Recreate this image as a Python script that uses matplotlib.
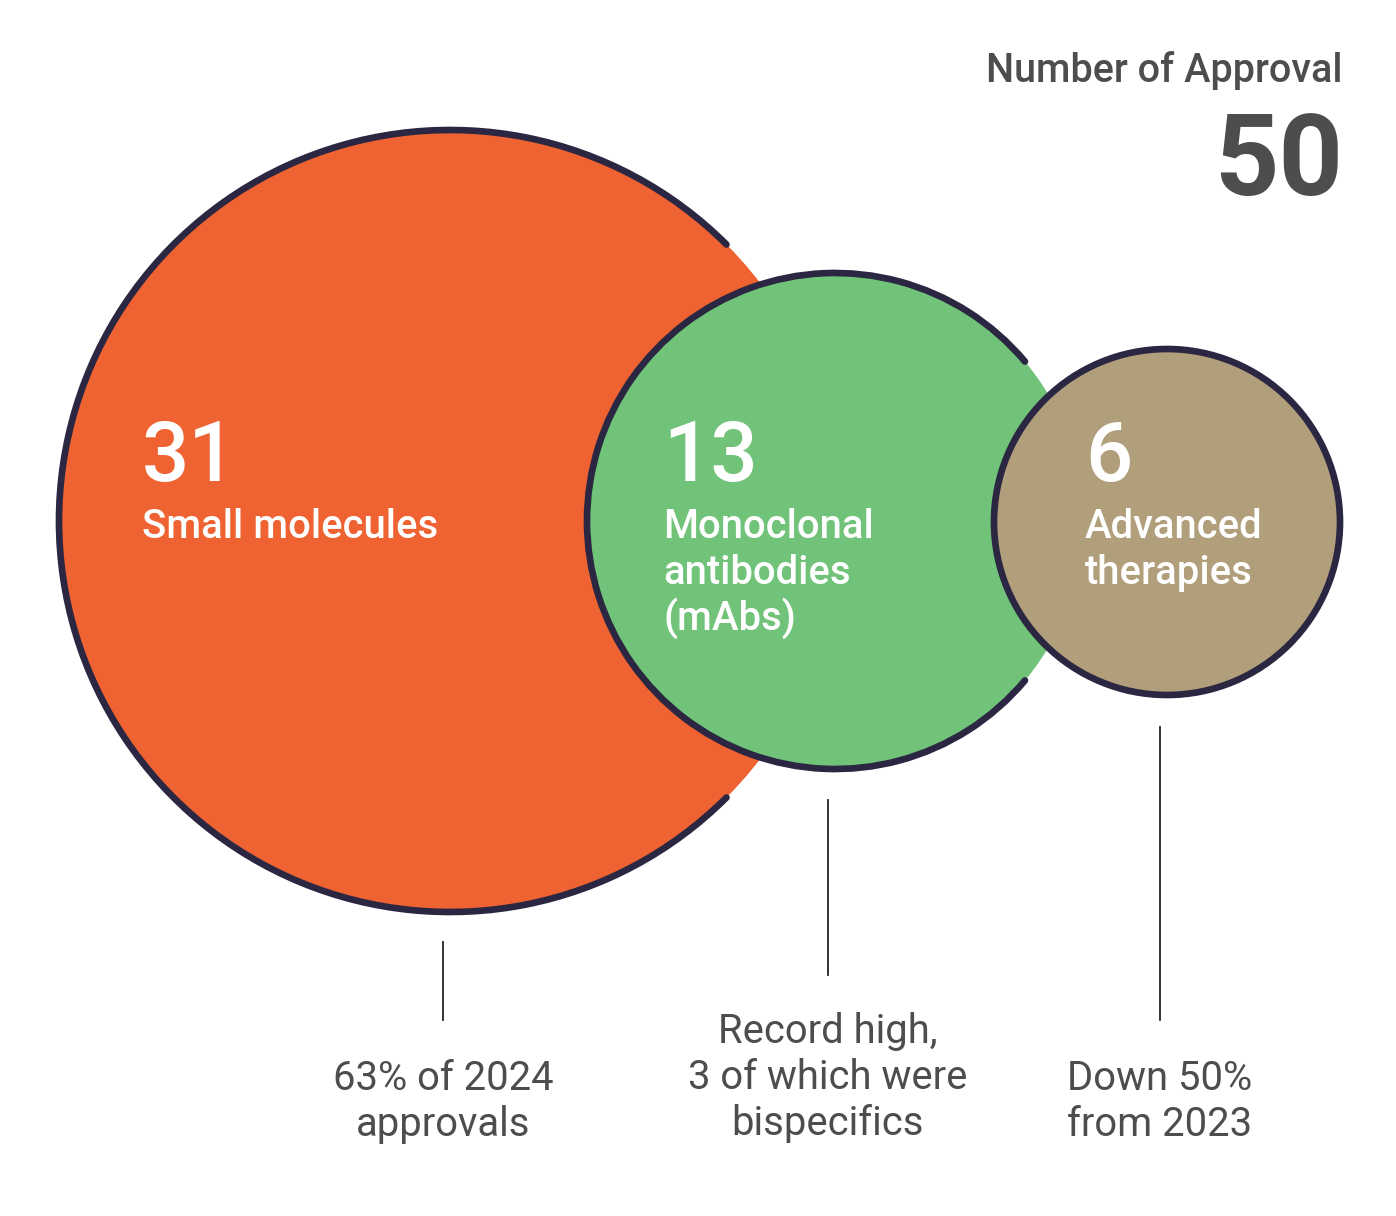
import matplotlib.pyplot as plt
from matplotlib.patches import Circle, Arc

plt.rcParams['font.family'] = ['Roboto', 'DejaVu Sans']

# data
counts = [31, 13, 6]
names = ['Small molecules', 'Monoclonal\nantibodies\n(mAbs)', 'Advanced\ntherapies']
notes = ['63% of 2024\napprovals', 'Record high,\n3 of which were\nbispecifics', 'Down 50%\nfrom 2023']
colors = ['#EE6331', '#70C378', '#B19E7A']
total_label = 'Number of Approval'
total = sum(counts)

# layout (pixel coords, y down)
W, H = 1396, 1216
centers = [(450, 521), (835, 521), (1167, 522)]
radii = [391, 248, 173]
arc_gap = [45, 40, 0]          # half-angle of the outline gap on the right side
label_x = [142, 663, 1085]
note_x = [443, 828, 1160]
lead_y = [(942, 1020), (800, 975), (727, 1020)]
note_top = [1090, 1043, 1090]
edge = '#2B2641'
grey = '#4D4D4D'

fig = plt.figure(figsize=(W / 100, H / 100), dpi=100)
ax = fig.add_axes([0, 0, 1, 1])
ax.set_xlim(0, W)
ax.set_ylim(H, 0)
ax.set_aspect('equal')
ax.axis('off')

for i, (c, r, col) in enumerate(zip(centers, radii, colors)):
    ax.add_patch(Circle(c, r, facecolor=col, edgecolor='none', zorder=1 + i))
    g = arc_gap[i]
    # y axis is inverted, so angles go clockwise on screen
    if g:
        arc = Arc(c, 2 * r, 2 * r, theta1=g, theta2=360 - g,
                  color=edge, lw=4.8, zorder=1.5 + i, capstyle='round')
    else:
        arc = Circle(c, r, facecolor='none', edgecolor=edge, lw=4.8, zorder=1.5 + i)
    ax.add_patch(arc)

    # number + name
    ax.text(label_x[i], 481, str(counts[i]), color='white', fontsize=60,
            fontweight='medium', ha='left', va='baseline', zorder=10)
    for j, line in enumerate(names[i].split('\n')):
        ax.text(label_x[i], 538 + j * 46, line, color='white', fontsize=28.8,
                fontweight='medium', ha='left', va='baseline', zorder=10)

    # leader line and note
    ax.plot([note_x[i], note_x[i]], lead_y[i], color='#222222', lw=1.3, zorder=5)
    for j, line in enumerate(notes[i].split('\n')):
        ax.text(note_x[i], note_top[i] + j * 46, line, color=grey, fontsize=28.8,
                ha='center', va='baseline')

ax.text(1342, 82, total_label, color=grey, fontsize=28.5, fontweight='medium',
        ha='right', va='baseline')
ax.text(1343, 195, str(total), color=grey, fontsize=81, fontweight='bold',
        ha='right', va='baseline')

fig.savefig('out.png', dpi=100)
